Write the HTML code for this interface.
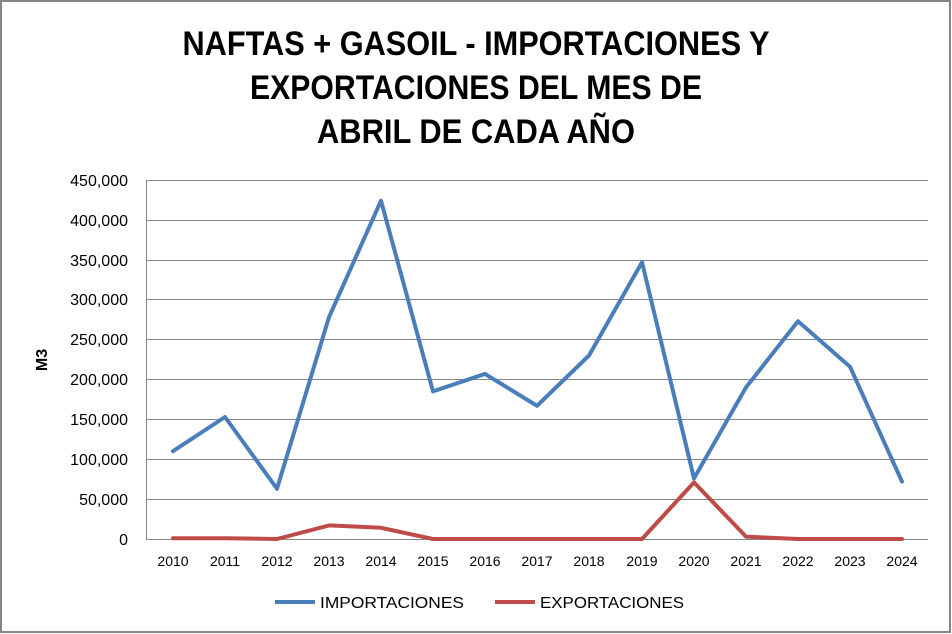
<!DOCTYPE html>
<html><head><meta charset="utf-8"><style>
body{margin:0;background:#fff;}
svg{display:block;font-family:"Liberation Sans",sans-serif;}
</style></head><body>
<svg width="952" height="634" viewBox="0 0 952 634">
<rect x="1" y="1" width="949" height="631" fill="#fff" stroke="#868686" stroke-width="2"/>
<g font-weight="bold" font-size="34" text-anchor="middle" fill="#000" lengthAdjust="spacingAndGlyphs">
<text x="476" y="55" textLength="587" lengthAdjust="spacingAndGlyphs">NAFTAS + GASOIL - IMPORTACIONES Y</text>
<text x="476" y="99" textLength="452" lengthAdjust="spacingAndGlyphs">EXPORTACIONES DEL MES DE</text>
<text x="476" y="143" textLength="318" lengthAdjust="spacingAndGlyphs">ABRIL DE CADA AÑO</text>
</g>
<g stroke="#868686" stroke-width="1">
<line x1="147" y1="180.5" x2="928" y2="180.5"/>
<line x1="147" y1="220.5" x2="928" y2="220.5"/>
<line x1="147" y1="260.5" x2="928" y2="260.5"/>
<line x1="147" y1="299.5" x2="928" y2="299.5"/>
<line x1="147" y1="339.5" x2="928" y2="339.5"/>
<line x1="147" y1="379.5" x2="928" y2="379.5"/>
<line x1="147" y1="419.5" x2="928" y2="419.5"/>
<line x1="147" y1="459.5" x2="928" y2="459.5"/>
<line x1="147" y1="499.5" x2="928" y2="499.5"/>
<line x1="147" y1="539.5" x2="928" y2="539.5"/>
<line x1="146.5" y1="180" x2="146.5" y2="540"/>
</g>
<g font-size="16" text-anchor="end" fill="#000">
<text x="128" y="186">450,000</text>
<text x="128" y="226">400,000</text>
<text x="128" y="266">350,000</text>
<text x="128" y="305">300,000</text>
<text x="128" y="345">250,000</text>
<text x="128" y="385">200,000</text>
<text x="128" y="425">150,000</text>
<text x="128" y="465">100,000</text>
<text x="128" y="505">50,000</text>
<text x="128" y="545">0</text>
</g>
<text x="47" y="360" font-size="16" font-weight="bold" text-anchor="middle" transform="rotate(-90 47 360)">M3</text>
<g font-size="14" text-anchor="middle" fill="#000">
<text x="173" y="566">2010</text><text x="225" y="566">2011</text><text x="277" y="566">2012</text>
<text x="329" y="566">2013</text><text x="381" y="566">2014</text><text x="433" y="566">2015</text>
<text x="485" y="566">2016</text><text x="537" y="566">2017</text><text x="589" y="566">2018</text>
<text x="642" y="566">2019</text><text x="694" y="566">2020</text><text x="746" y="566">2021</text>
<text x="798" y="566">2022</text><text x="850" y="566">2023</text><text x="902" y="566">2024</text>
</g>
<polyline fill="none" stroke="#4a7ebb" stroke-width="4" stroke-linejoin="round" stroke-linecap="round"
points="173,451.2 225,417 277,488.7 329,317.2 381,200.7 433,391.4 485,373.9 537,405.8 589,355.5 642,262.2 694,478.4 746,387.4 798,321.2 850,366.7 902,481.6"/>
<polyline fill="none" stroke="#be4b48" stroke-width="4" stroke-linejoin="round" stroke-linecap="round"
points="173,538.2 225,538.2 277,539 329,525.4 381,527.8 433,539 485,539 537,539 589,539 642,539 694,482.4 746,536.6 798,539 850,539 902,539"/>
<line x1="275" y1="602" x2="315" y2="602" stroke="#4a7ebb" stroke-width="4"/>
<text x="320" y="608" font-size="16" textLength="144" lengthAdjust="spacingAndGlyphs">IMPORTACIONES</text>
<line x1="495" y1="602" x2="535" y2="602" stroke="#be4b48" stroke-width="4"/>
<text x="540" y="608" font-size="16" textLength="144" lengthAdjust="spacingAndGlyphs">EXPORTACIONES</text>
</svg>
</body></html>
